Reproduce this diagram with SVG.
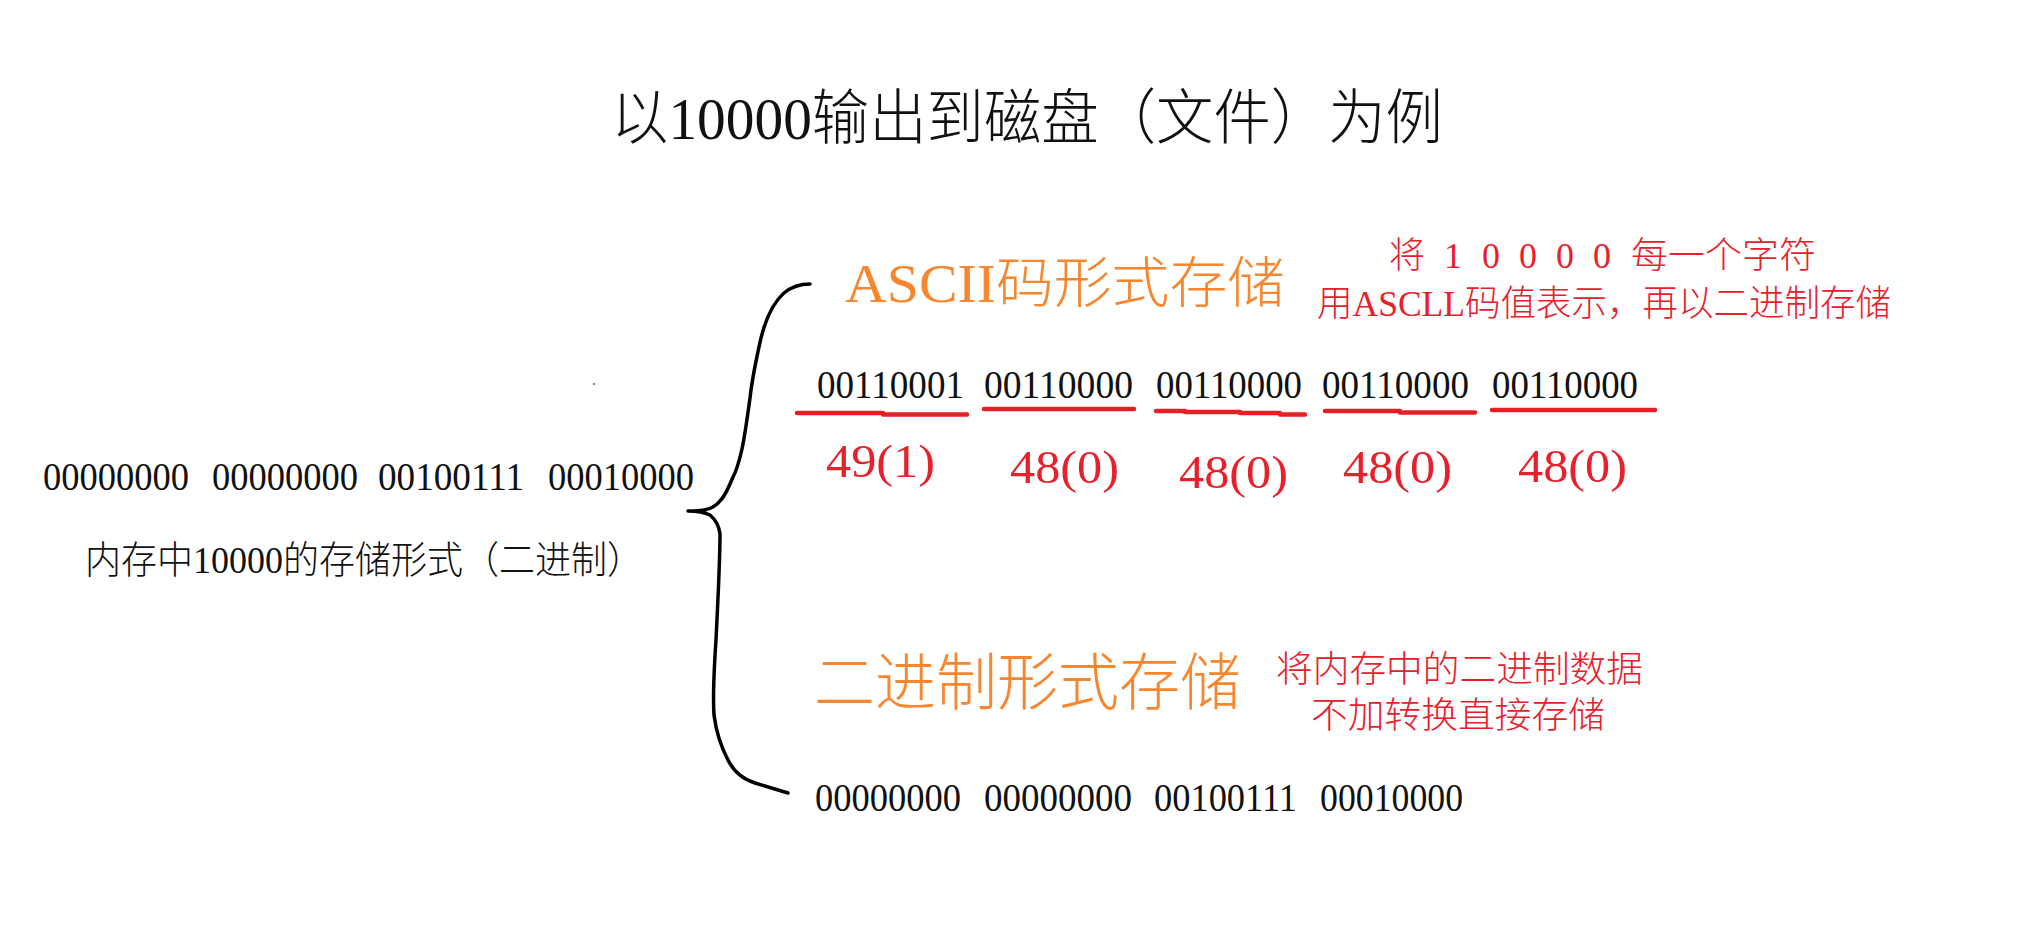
<svg xmlns="http://www.w3.org/2000/svg" width="2024" height="930" viewBox="0 0 2024 930">
<style>
  text { font-family: "Liberation Serif", "Noto Sans CJK SC", serif; font-weight: 300; }
  .blk { fill: #111111; }
  .org { fill: #F8862F; }
  .red { fill: #E8202B; }
  .ul { stroke: #E51F26; stroke-width: 4.5; stroke-linecap: round; fill: none; }
  .brace { stroke: #000000; stroke-width: 3.5; fill: none; stroke-linecap: round; stroke-linejoin: round; }
</style>
<rect width="2024" height="930" fill="#ffffff"/>

<g id="title">
  <text class="blk" x="611" y="139" font-size="60" textLength="832" lengthAdjust="spacingAndGlyphs">以10000输出到磁盘（文件）为例</text>
</g>

<g id="connectors">
  <path class="brace" d="M810,284 C798,284 790,288 784,293 C774,302 766,318 761,338 C756,360 752,380 750,398 C747,420 745,435 742,449 C739,462 737,470 733,477 C729,487 725,496 720,501 C715,507 710,509 704,510 C698,511 693,511 688,511 C696,511 704,512 710,515 C716,520 719,526 720,534 C720,560 718,600 716,640 C714,670 713,700 714,715 C716,730 720,745 728,760 C734,772 742,779 755,783 C768,787 778,790 788,793"/>
  <circle cx="594" cy="384" r="1" fill="#555555"/>
</g>

<g id="memory">
  <text class="blk" y="490" font-size="41"><tspan x="43" textLength="146" lengthAdjust="spacingAndGlyphs">00000000</tspan> <tspan x="212" textLength="146" lengthAdjust="spacingAndGlyphs">00000000</tspan> <tspan x="378" textLength="146" lengthAdjust="spacingAndGlyphs">00100111</tspan> <tspan x="548" textLength="146" lengthAdjust="spacingAndGlyphs">00010000</tspan></text>
  <text class="blk" x="85" y="573" font-size="38" textLength="558" lengthAdjust="spacingAndGlyphs">内存中10000的存储形式（二进制）</text>
</g>

<g id="ascii-storage">
  <text class="org" x="845" y="302" font-size="55" textLength="440" lengthAdjust="spacingAndGlyphs">ASCII码形式存储</text>
  <text class="red" y="268" font-size="36"><tspan x="1389">将 </tspan><tspan x="1444">1 </tspan><tspan x="1482">0 </tspan><tspan x="1519">0 </tspan><tspan x="1556">0 </tspan><tspan x="1593">0 </tspan><tspan x="1631" textLength="185" lengthAdjust="spacingAndGlyphs">每一个字符</tspan></text>
  <text class="red" x="1317" y="316" font-size="36" textLength="574" lengthAdjust="spacingAndGlyphs">用ASCLL码值表示，再以二进制存储</text>
  <text class="blk" y="398" font-size="41"><tspan x="817" textLength="147" lengthAdjust="spacingAndGlyphs">00110001</tspan> <tspan x="984" textLength="149" lengthAdjust="spacingAndGlyphs">00110000</tspan> <tspan x="1156" textLength="146" lengthAdjust="spacingAndGlyphs">00110000</tspan> <tspan x="1322" textLength="147" lengthAdjust="spacingAndGlyphs">00110000</tspan> <tspan x="1492" textLength="146" lengthAdjust="spacingAndGlyphs">00110000</tspan></text>
  <path class="ul" d="M797,413 L883,413 M883,414.5 L967,414.5"/>
  <path class="ul" d="M984,409 L1134,409"/>
  <path class="ul" d="M1156,411 L1185,411 M1185,412 L1240,412 M1240,413 L1280,413 M1280,414.5 L1305,414.5"/>
  <path class="ul" d="M1325,411 L1400,411 M1400,412.5 L1475,412.5"/>
  <path class="ul" d="M1492,410 L1655,410"/>
  <text class="red" x="826" y="477" font-size="46" textLength="109" lengthAdjust="spacingAndGlyphs">49(1)</text>
  <text class="red" x="1010" y="483" font-size="46" textLength="109" lengthAdjust="spacingAndGlyphs">48(0)</text>
  <text class="red" x="1179" y="488" font-size="46" textLength="109" lengthAdjust="spacingAndGlyphs">48(0)</text>
  <text class="red" x="1343" y="483" font-size="46" textLength="109" lengthAdjust="spacingAndGlyphs">48(0)</text>
  <text class="red" x="1518" y="482" font-size="46" textLength="109" lengthAdjust="spacingAndGlyphs">48(0)</text>
</g>

<g id="binary-storage">
  <text class="org" x="814" y="705" font-size="62" textLength="427" lengthAdjust="spacingAndGlyphs">二进制形式存储</text>
  <text class="red" x="1276" y="682" font-size="36" textLength="367" lengthAdjust="spacingAndGlyphs">将内存中的二进制数据</text>
  <text class="red" x="1311" y="728" font-size="36" textLength="294" lengthAdjust="spacingAndGlyphs">不加转换直接存储</text>
  <text class="blk" y="811" font-size="41"><tspan x="815" textLength="146" lengthAdjust="spacingAndGlyphs">00000000</tspan> <tspan x="984" textLength="148" lengthAdjust="spacingAndGlyphs">00000000</tspan> <tspan x="1154" textLength="143" lengthAdjust="spacingAndGlyphs">00100111</tspan> <tspan x="1320" textLength="143" lengthAdjust="spacingAndGlyphs">00010000</tspan></text>
</g>
</svg>
